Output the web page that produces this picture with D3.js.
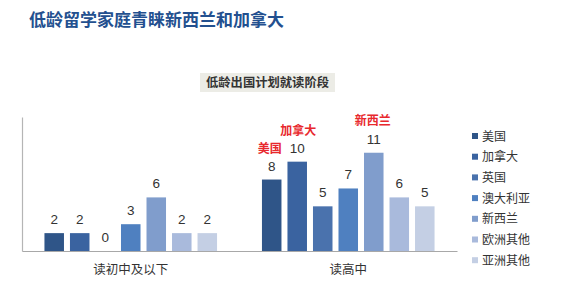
<!DOCTYPE html>
<html><head><meta charset="utf-8">
<script src="https://cdn.jsdelivr.net/npm/d3@7"></script>
<style>body{margin:0;background:#fff;}svg{display:block;font-family:"Noto Sans CJK SC","Microsoft YaHei",sans-serif;}</style>
</head><body>
<svg id="c" width="567" height="286"></svg>
<script>
const categories = ["读初中及以下", "读高中"];
const seriesNames = ["美国", "加拿大", "英国", "澳大利亚", "新西兰", "欧洲其他", "亚洲其他"];
const seriesColors = ["#2f5588", "#3a63a0", "#4a72ad", "#4f80c0", "#809dcc", "#a9badc", "#c4cfe4"];
const valuesJunior = [2, 2, 0, 3, 6, 2, 2];
const valuesSenior = [8, 10, 5, 7, 11, 6, 5];
const highlightLabels = [{cat: "读高中", series: "美国", text: "美国"},
                         {cat: "读高中", series: "加拿大", text: "加拿大"},
                         {cat: "读高中", series: "新西兰", text: "新西兰"}];
const title = "低龄留学家庭青睐新西兰和加拿大";
const subtitle = "低龄出国计划就读阶段";

const data = categories.map((c, i) => ({cat: c, values: (i === 0 ? valuesJunior : valuesSenior)}));

const svg = d3.select("#c");
const x0 = d3.scaleBand().domain(categories).range([22, 457]).paddingInner(0).paddingOuter(0);
const x1 = d3.scaleBand().domain(seriesNames).range([0, x0.bandwidth()]).paddingInner(0.235).paddingOuter(0.88);
const y = d3.scaleLinear().domain([0, 15]).range([251, 117]);

svg.append("text").attr("x", 29).attr("y", 26).text(title)
  .attr("font-size", 17).attr("font-weight", "bold").attr("fill", "#23508f");

svg.append("rect").attr("x", 200).attr("y", 73).attr("width", 135).attr("height", 19).attr("fill", "#ececE6");
svg.append("text").attr("x", 267.5).attr("y", 87).attr("text-anchor", "middle").text(subtitle)
  .attr("font-size", 12.3).attr("font-weight", "bold").attr("fill", "#333");

// axes
const yAxis = svg.append("g").attr("transform", "translate(22,0)").call(d3.axisLeft(y).ticks(0).tickSize(0).tickFormat(""));
yAxis.select(".domain").attr("stroke", "#b5b5b5").attr("stroke-width", 1.2);
const xAxis = svg.append("g").attr("transform", "translate(0,251)").call(d3.axisBottom(x0).tickSize(0).tickPadding(14));
xAxis.select(".domain").attr("stroke", "#a8a8a8").attr("stroke-width", 1.2);
xAxis.selectAll("text").attr("font-size", 12.5).attr("fill", "#333").attr("font-family", "'Noto Sans CJK SC',sans-serif");

const groups = svg.selectAll("g.grp").data(data).join("g").attr("class", "grp")
  .attr("transform", d => `translate(${x0(d.cat)},0)`);
groups.selectAll("rect").data(d => d.values.map((v, i) => ({s: seriesNames[i], v, i})))
  .join("rect")
  .attr("x", d => x1(d.s)).attr("width", x1.bandwidth())
  .attr("y", d => y(d.v)).attr("height", d => y(0) - y(d.v))
  .attr("fill", d => seriesColors[d.i]);
groups.selectAll("text.val").data(d => d.values.map((v, i) => ({s: seriesNames[i], v, i})))
  .join("text").attr("class", "val")
  .attr("x", d => x1(d.s) + x1.bandwidth() / 2)
  .attr("y", d => y(d.v) - 9)
  .attr("text-anchor", "middle").attr("font-size", 13.5).attr("fill", "#333")
  .attr("font-family", "'Liberation Sans',Arial,sans-serif")
  .text(d => d.v);

// red highlight labels
const hl = svg.selectAll("text.hl").data(highlightLabels).join("text").attr("class", "hl")
  .attr("text-anchor", "middle").attr("font-size", 12).attr("font-weight", "bold").attr("fill", "#e8282d")
  .text(d => d.text);
hl.each(function(d) {
  const v = data.find(e => e.cat === d.cat).values[seriesNames.indexOf(d.series)];
  let cx = x0(d.cat) + x1(d.series) + x1.bandwidth() / 2;
  let yy = y(v) - 27;
  if (d.series === "美国") { cx -= 2; }
  if (d.series === "加拿大") { cx += 1; }
  if (d.series === "新西兰") { cx -= 1; yy = y(v) - 28; }
  d3.select(this).attr("x", cx).attr("y", yy);
});

// legend
const lg = svg.selectAll("g.lg").data(seriesNames).join("g").attr("class", "lg")
  .attr("transform", (d, i) => `translate(472,${136 + i * 20.7})`);
lg.append("rect").attr("x", 0).attr("y", -3).attr("width", 6).attr("height", 6)
  .attr("fill", (d, i) => seriesColors[i]);
lg.append("text").attr("x", 10).attr("y", 4.5).attr("font-size", 12).attr("fill", "#333").text(d => d);
</script>
</body></html>
